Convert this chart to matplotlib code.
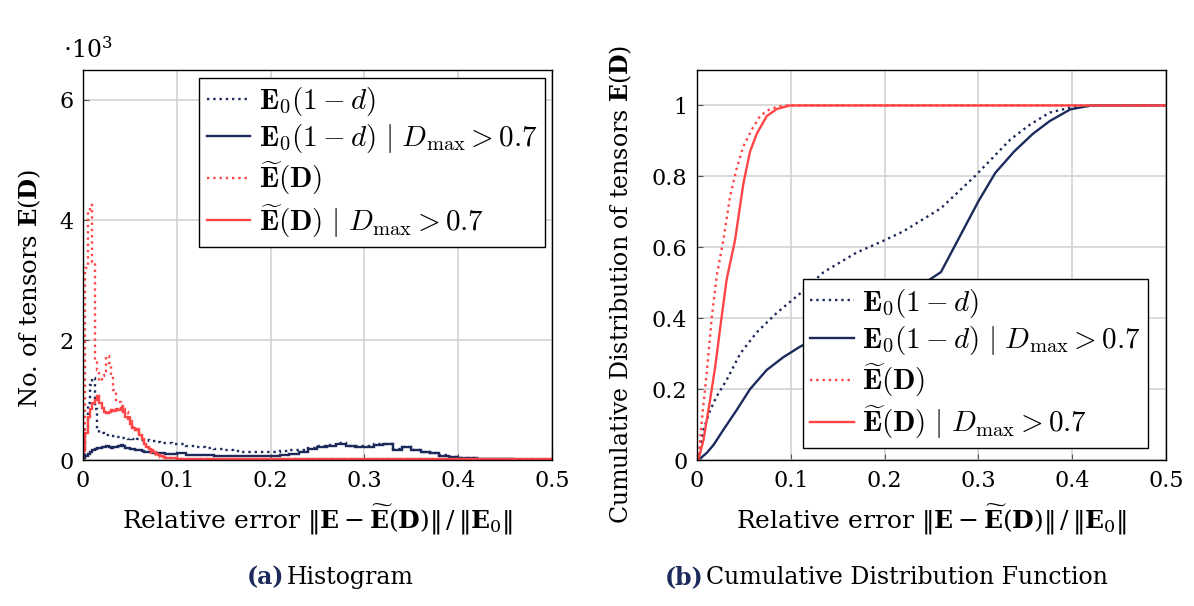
import numpy as np
import matplotlib
matplotlib.use("Agg")
import matplotlib.pyplot as plt
from matplotlib.font_manager import FontProperties

plt.rcParams['font.family'] = ['DejaVu Serif']
plt.rcParams['mathtext.fontset'] = 'dejavuserif'

NAVY = '#1d2a5c'
RED = '#ff4545'

# histogram bin edges: fine bins up to 0.1, coarse after
edges_fine = np.linspace(0.0, 0.1, 41)
edges_coarse = np.linspace(0.11, 0.5, 40)
edges = np.concatenate([edges_fine, edges_coarse])

# counts in thousands
e0_all = [0.10, 0.55, 0.95, 1.25, 1.37, 0.85, 0.50, 0.45, 0.45, 0.43,
          0.42, 0.42, 0.40, 0.40, 0.38, 0.38, 0.37, 0.36, 0.36, 0.35,
          0.36, 0.35, 0.34, 0.35, 0.34, 0.33, 0.34, 0.33, 0.32, 0.31,
          0.31, 0.30, 0.30, 0.29, 0.29, 0.28, 0.28, 0.28, 0.27, 0.27,
          0.26, 0.23, 0.22, 0.20, 0.18, 0.16, 0.15, 0.14, 0.13, 0.13,
          0.14, 0.15, 0.16, 0.17, 0.20, 0.23, 0.25, 0.28, 0.24, 0.23,
          0.23, 0.26, 0.27, 0.18, 0.22, 0.17, 0.14, 0.12, 0.08, 0.05,
          0.04, 0.03, 0.02, 0.015, 0.01, 0.01, 0.005, 0.005, 0.003, 0.003]
e0_dmax = [0.03, 0.07, 0.10, 0.13, 0.16, 0.18, 0.20, 0.20, 0.21, 0.22,
           0.23, 0.22, 0.20, 0.21, 0.22, 0.24, 0.25, 0.23, 0.20, 0.20,
           0.19, 0.18, 0.17, 0.16, 0.16, 0.15, 0.14, 0.14, 0.13, 0.13,
           0.12, 0.12, 0.11, 0.11, 0.11, 0.10, 0.10, 0.10, 0.10, 0.10,
           0.11, 0.09, 0.08, 0.08, 0.07, 0.06, 0.06, 0.06, 0.06, 0.06,
           0.07, 0.08, 0.10, 0.13, 0.19, 0.22, 0.24, 0.27, 0.23, 0.22,
           0.22, 0.25, 0.26, 0.17, 0.21, 0.16, 0.13, 0.12, 0.07, 0.05,
           0.04, 0.03, 0.02, 0.015, 0.01, 0.01, 0.005, 0.005, 0.003, 0.003]
ed_all = [0.30, 3.20, 4.15, 4.25, 3.30, 1.65, 1.50, 1.32, 1.40, 1.48,
          1.73, 1.62, 1.40, 1.17, 1.00, 0.97, 0.90, 0.85, 0.80, 0.75,
          0.65, 0.55, 0.50, 0.48, 0.40, 0.32, 0.25, 0.20, 0.15, 0.12,
          0.10, 0.08, 0.06, 0.05, 0.05, 0.04, 0.04, 0.03, 0.03, 0.03,
          0.02, 0.02, 0.02, 0.02, 0.02, 0.02, 0.02, 0.015, 0.015, 0.015,
          0.015, 0.015, 0.015, 0.015, 0.01, 0.01, 0.01, 0.01, 0.01, 0.01,
          0.01, 0.01, 0.01, 0.01, 0.01, 0.01, 0.01, 0.01, 0.01, 0.01,
          0.01, 0.01, 0.01, 0.01, 0.01, 0.01, 0.01, 0.01, 0.01, 0.01]
ed_dmax = [0.15, 0.45, 0.72, 0.85, 0.95, 1.00, 1.06, 0.95, 0.87, 0.80,
           0.78, 0.80, 0.84, 0.82, 0.85, 0.83, 0.86, 0.80, 0.72, 0.68,
           0.60, 0.53, 0.50, 0.52, 0.42, 0.35, 0.27, 0.22, 0.18, 0.16,
           0.13, 0.10, 0.08, 0.06, 0.05, 0.04, 0.03, 0.03, 0.03, 0.03,
           0.02, 0.02, 0.02, 0.02, 0.02, 0.02, 0.02, 0.015, 0.015, 0.015,
           0.015, 0.015, 0.015, 0.015, 0.01, 0.01, 0.01, 0.01, 0.01, 0.01,
           0.01, 0.01, 0.01, 0.01, 0.01, 0.01, 0.01, 0.01, 0.01, 0.01,
           0.01, 0.01, 0.01, 0.01, 0.01, 0.01, 0.01, 0.01, 0.01, 0.01]

# cumulative distributions (x, F)
cdf_e0_all_x = [0.0, 0.0014, 0.0068, 0.0139, 0.021, 0.0316, 0.046, 0.0636, 0.085, 0.11,
                0.135, 0.17, 0.2, 0.22, 0.26, 0.296, 0.334, 0.355, 0.376, 0.398, 0.426, 0.5]
cdf_e0_all_y = [0.0, 0.0, 0.085, 0.14, 0.18, 0.226, 0.30, 0.36, 0.415, 0.47,
                0.53, 0.585, 0.62, 0.645, 0.71, 0.80, 0.904, 0.946, 0.98, 0.994, 1.0, 1.0]
cdf_e0_dmax_x = [0.0, 0.0014, 0.0103, 0.0174, 0.028, 0.042, 0.0565, 0.0743, 0.092, 0.11,
                 0.17, 0.22, 0.26, 0.28, 0.300, 0.318, 0.338, 0.358, 0.376, 0.398, 0.42, 0.5]
cdf_e0_dmax_y = [0.0, 0.0, 0.02, 0.042, 0.085, 0.14, 0.20, 0.254, 0.29, 0.32,
                 0.40, 0.46, 0.53, 0.63, 0.73, 0.81, 0.87, 0.92, 0.956, 0.989, 1.0, 1.0]
cdf_ed_all_x = [0.0, 0.0014, 0.005, 0.0103, 0.0156, 0.021, 0.028, 0.035, 0.042, 0.0494,
                0.058, 0.067, 0.0778, 0.092, 0.5]
cdf_ed_all_y = [0.0, 0.0, 0.11, 0.245, 0.40, 0.52, 0.62, 0.74, 0.82, 0.885,
                0.93, 0.97, 0.99, 1.0, 1.0]
cdf_ed_dmax_x = [0.0, 0.0014, 0.0068, 0.0139, 0.0192, 0.026, 0.0316, 0.0405, 0.0494, 0.0565,
                 0.0636, 0.0743, 0.085, 0.099, 0.5]
cdf_ed_dmax_y = [0.0, 0.0, 0.056, 0.17, 0.26, 0.40, 0.51, 0.62, 0.78, 0.87,
                 0.92, 0.97, 0.99, 1.0, 1.0]

labels = [r'$\mathbf{E}_0(1-d)$',
          r'$\mathbf{E}_0(1-d)\ |\ D_{\mathrm{max}}>0.7$',
          r'$\widetilde{\mathbf{E}}(\mathbf{D})$',
          r'$\widetilde{\mathbf{E}}(\mathbf{D})\ |\ D_{\mathrm{max}}>0.7$']
xlab = r'Relative error $\|\mathbf{E}-\widetilde{\mathbf{E}}(\mathbf{D})\|\,/\,\|\mathbf{E}_0\|$'

fig = plt.figure(figsize=(11.94, 6.06), dpi=100)
ax1 = fig.add_axes([0.0695, 0.2409, 0.3928, 0.6436])
ax2 = fig.add_axes([0.5838, 0.2409, 0.3928, 0.6436])

ax1.stairs(e0_all, edges, color=NAVY, ls=':', lw=1.7, label=labels[0])
ax1.stairs(e0_dmax, edges, color=NAVY, ls='-', lw=1.7, label=labels[1])
ax1.stairs(ed_all, edges, color=RED, ls=':', lw=1.7, label=labels[2])
ax1.stairs(ed_dmax, edges, color=RED, ls='-', lw=1.7, label=labels[3])

ax2.plot(cdf_e0_all_x, cdf_e0_all_y, color=NAVY, ls=':', lw=1.7, label=labels[0])
ax2.plot(cdf_e0_dmax_x, cdf_e0_dmax_y, color=NAVY, ls='-', lw=1.7, label=labels[1])
ax2.plot(cdf_ed_all_x, cdf_ed_all_y, color=RED, ls=':', lw=1.7, label=labels[2])
ax2.plot(cdf_ed_dmax_x, cdf_ed_dmax_y, color=RED, ls='-', lw=1.7, label=labels[3])

ax1.set_ylim(0, 6.5)
ax1.set_yticks([0, 2, 4, 6])
ax1.set_yticklabels(['0', '2', '4', '6'])
ax2.set_ylim(0, 1.1)
ax2.set_yticks([0, 0.2, 0.4, 0.6, 0.8, 1.0])
ax2.set_yticklabels(['0', '0.2', '0.4', '0.6', '0.8', '1'])

for ax in (ax1, ax2):
    ax.set_xlim(0, 0.5)
    ax.set_xticks([0, 0.1, 0.2, 0.3, 0.4, 0.5])
    ax.set_xticklabels(['0', '0.1', '0.2', '0.3', '0.4', '0.5'])
    ax.grid(True, color='#d0d0d0', lw=1.1)
    ax.set_axisbelow(True)
    ax.tick_params(direction='in', length=4, labelsize=16, color='#555555', pad=7)
    for s in ax.spines.values():
        s.set_linewidth(1.0)
    ax.set_xlabel(xlab, fontsize=18, labelpad=8)

ax1.set_ylabel(r'No. of tensors $\mathbf{E}(\mathbf{D})$', fontsize=17.5)
ax2.set_ylabel(r'Cumulative Distribution of tensors $\mathbf{E}(\mathbf{D})$', fontsize=17)
ax1.yaxis.set_label_coords(-0.085, 0.44)
ax2.yaxis.set_label_coords(-0.135, 0.45)

fig.text(0.053, 0.905, r'$\cdot10^3$', fontsize=17)

lp = FontProperties(family='DejaVu Serif', size=21, math_fontfamily='cm')
for ax, loc, anchor in ((ax1, 'upper right', (0.985, 0.98)), (ax2, 'lower right', (0.962, 0.03))):
    leg = ax.legend(loc=loc, bbox_to_anchor=anchor, prop=lp, frameon=True, fancybox=False,
                    framealpha=1, edgecolor='black', handlelength=1.5, borderaxespad=0,
                    labelspacing=0.15, handletextpad=0.3, borderpad=0.25)
    leg.get_frame().set_linewidth(1.0)

fig.text(0.207, 0.036, '(a)', fontsize=17, fontweight='bold', color=NAVY)
fig.text(0.240, 0.036, 'Histogram', fontsize=17)
fig.text(0.557, 0.036, '(b)', fontsize=17, fontweight='bold', color=NAVY)
fig.text(0.591, 0.036, 'Cumulative Distribution Function', fontsize=17)

fig.savefig('out.png', dpi=100)
